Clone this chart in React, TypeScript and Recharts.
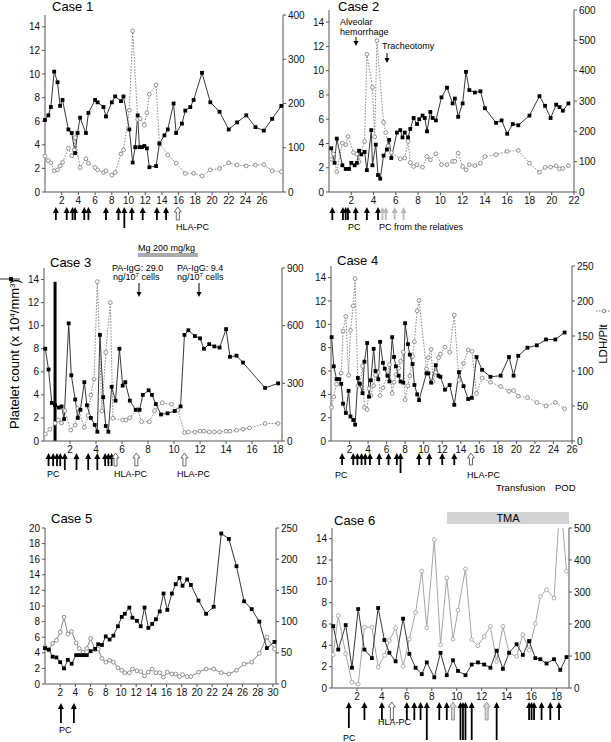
import React from 'react'
import { ComposedChart, Line, Scatter, XAxis, YAxis, ReferenceLine } from 'recharts'

type Pt = [number, number]
type Arr = [number, string]

const FONT = '"Liberation Sans", Arial, sans-serif'

// Case 1
const c1Plt: Pt[] = [[0, 6.1], [0.4, 6.5], [0.7, 7.2], [1.1, 10.2], [1.5, 9.3], [1.8, 7.3], [2.1, 7.8], [2.8, 5.3], [3.2, 5.0], [3.6, 3.3], [3.9, 5.0], [4.2, 6.3], [4.9, 5.0], [5.2, 6.7], [6.0, 7.8], [6.3, 7.6], [7.0, 7.2], [7.3, 6.4], [8.0, 7.6], [8.4, 8.1], [9.1, 7.7], [9.4, 8.1], [10.1, 5.3], [10.5, 2.5], [10.8, 3.8], [11.1, 6.5], [11.3, 3.8], [11.6, 3.8], [11.9, 3.9], [12.2, 3.7], [12.5, 2.1], [13.3, 2.2], [13.7, 4.1], [14.3, 4.8], [14.7, 5.3], [15.4, 7.5], [15.7, 5.0], [16.4, 5.8], [16.8, 6.9], [17.4, 7.2], [17.8, 7.8], [18.8, 10.1], [19.8, 7.6], [20.9, 6.8], [22.0, 5.3], [23.0, 5.9], [24.1, 6.5], [25.2, 5.5], [26.2, 5.2], [27.2, 6.2], [28.3, 7.3]]
const c1Ldh: Pt[] = [[0, 81], [0.4, 71], [0.7, 66], [1.1, 48], [1.5, 50], [1.8, 59], [2.1, 67], [2.8, 99], [3.2, 82], [3.5, 95], [3.6, 123], [4.2, 55], [4.9, 75], [5.2, 65], [6.0, 55], [6.3, 50], [7.0, 44], [7.3, 48], [8.0, 38], [8.4, 44], [9.1, 86], [9.4, 95], [10.1, 185], [10.5, 364], [11.1, 164], [11.4, 166], [11.9, 151], [12.2, 179], [12.5, 221], [13.3, 242], [13.7, 110], [14.7, 84], [15.7, 65], [16.8, 42], [17.8, 42], [18.8, 36], [19.8, 50], [20.9, 53], [22.0, 66], [23.0, 61], [24.1, 59], [25.2, 61], [26.2, 62], [27.2, 48], [28.3, 46]]
const c1Arrows: Arr[] = [[1.3, 'f'], [2.6, 'f'], [3.3, 'f'], [3.6, 'f'], [4.7, 'f'], [5.2, 'f'], [7.3, 'f'], [8.8, 'f'], [9.5, 'L'], [10.4, 'f'], [11.7, 'f'], [13.4, 'f'], [14.5, 'f'], [15.9, 'o']]

// Case 2
const c2Plt: Pt[] = [[0.2, 3.6], [0.5, 2.4], [0.7, 4.4], [1.2, 2.2], [1.5, 1.9], [1.8, 1.9], [2.0, 2.4], [2.3, 2.2], [2.5, 2.4], [2.7, 3.4], [2.9, 3.1], [3.2, 3.3], [3.4, 1.8], [3.8, 5.1], [3.9, 2.2], [4.2, 3.9], [4.4, 1.4], [4.6, 1.1], [4.9, 3.0], [5.2, 3.5], [5.4, 4.3], [5.6, 2.8], [6.1, 4.9], [6.4, 5.1], [6.6, 4.5], [6.8, 4.9], [7.1, 4.5], [7.3, 5.2], [7.6, 6.1], [7.9, 5.6], [8.1, 6.0], [8.4, 6.3], [8.6, 6.1], [8.8, 5.0], [9.1, 6.6], [9.3, 6.1], [9.6, 5.9], [10.1, 7.8], [10.6, 8.6], [11.1, 7.3], [11.3, 7.7], [11.6, 6.2], [12.0, 7.3], [12.3, 9.9], [12.6, 8.4], [13.1, 8.2], [13.6, 8.3], [14.0, 6.9], [15.0, 5.7], [15.5, 5.9], [16.0, 4.8], [16.5, 5.6], [17.0, 5.5], [18.0, 6.3], [18.9, 7.9], [19.4, 7.1], [19.9, 6.1], [20.4, 7.2], [20.7, 7.0], [21.0, 6.7], [21.5, 7.3]]
const c2Ldh: Pt[] = [[0.2, 108], [0.4, 125], [0.7, 67], [1.2, 161], [1.5, 156], [1.7, 183], [2.2, 130], [2.5, 125], [2.7, 100], [2.9, 134], [3.2, 167], [3.4, 454], [3.9, 345], [4.1, 182], [4.3, 499], [4.9, 230], [5.1, 196], [5.3, 152], [5.6, 130], [6.4, 109], [6.8, 112], [7.1, 167], [7.3, 97], [7.6, 84], [7.9, 90], [8.4, 82], [8.8, 117], [9.1, 106], [9.6, 126], [10.1, 90], [10.6, 90], [11.1, 101], [11.3, 101], [11.6, 128], [12.0, 84], [12.3, 73], [12.6, 90], [13.1, 87], [13.6, 95], [14.0, 117], [15.0, 123], [16.0, 134], [17.0, 137], [18.0, 95], [18.9, 65], [19.4, 81], [19.9, 82], [20.4, 86], [20.7, 76], [21.0, 78], [21.5, 87]]
const c2Arrows: Arr[] = [[0.3, 'f'], [1.25, 'f'], [1.5, 'f'], [1.7, 'f'], [2.4, 'f'], [3.4, 'f'], [4.4, 'f'], [4.8, 'g'], [5.1, 'g'], [5.9, 'g'], [6.7, 'g']]

// Case 3
const c3Plt: Pt[] = [[0.1, 8.0], [0.35, 6.2], [0.6, 3.3], [0.85, 3.1], [1.15, 2.9], [1.35, 3.0], [1.55, 1.9], [1.9, 10.2], [2.1, 5.7], [2.4, 3.6], [2.6, 2.0], [2.8, 2.7], [3.1, 5.1], [3.3, 3.1], [3.6, 2.0], [3.9, 1.4], [4.1, 0.8], [4.3, 9.2], [4.55, 3.8], [4.75, 1.3], [4.95, 0.8], [5.2, 4.7], [5.5, 3.5], [5.8, 8.0], [6.05, 4.8], [6.25, 5.1], [6.6, 3.5], [7.05, 2.7], [7.35, 2.7], [7.6, 4.0], [8.05, 4.4], [8.3, 4.0], [8.6, 3.2], [9.0, 2.3], [9.5, 2.4], [10.05, 2.6], [10.5, 3.0], [10.8, 9.2], [11.1, 9.6], [11.6, 9.1], [12.0, 8.9], [12.3, 8.0], [12.7, 8.4], [13.1, 8.2], [13.5, 8.1], [14.0, 9.7], [14.3, 7.3], [14.8, 7.4], [15.3, 6.8], [17.0, 4.6], [18.0, 5.0]]
const c3Ldh: Pt[] = [[0.1, 36], [0.45, 61], [0.85, 92], [1.1, 109], [1.35, 94], [1.6, 158], [2.05, 57], [2.4, 83], [2.6, 170], [3.1, 71], [3.4, 132], [3.6, 239], [3.85, 322], [4.1, 829], [4.45, 156], [4.75, 461], [5.1, 720], [5.3, 118], [6.05, 109], [6.3, 109], [6.6, 121], [7.2, 165], [7.5, 100], [8.1, 100], [8.5, 158], [9.1, 199], [9.8, 191], [10.3, 160], [10.8, 44], [11.1, 47], [11.6, 47], [12.0, 51], [12.3, 51], [12.7, 47], [13.1, 47], [13.5, 47], [14.0, 51], [14.3, 51], [14.8, 56], [15.3, 61], [15.8, 68], [17.0, 91], [18.0, 91]]
const c3Bar: [number, number] = [0.85, 13.8]
const c3Arrows: Arr[] = [[0.35, 'f'], [0.7, 'f'], [1.0, 'f'], [1.25, 'f'], [1.6, 'L'], [2.5, 'L'], [3.4, 'L'], [4.1, 'L'], [4.7, 'f'], [4.95, 'f'], [5.2, 'f'], [5.5, 'o'], [7.1, 'o'], [10.8, 'o']]

// Case 4
const c4Plt: Pt[] = [[0.07, 8.9], [0.3, 6.4], [0.6, 5.3], [0.9, 5.3], [1.1, 4.9], [1.3, 3.2], [1.6, 2.4], [1.9, 4.3], [2.1, 2.1], [2.4, 1.8], [2.6, 1.4], [2.9, 5.4], [3.1, 4.9], [3.4, 4.1], [3.6, 6.8], [3.9, 8.4], [4.1, 3.8], [4.3, 5.2], [4.6, 7.9], [4.8, 6.0], [5.1, 5.3], [5.3, 8.5], [5.6, 6.7], [5.8, 6.2], [6.1, 5.6], [6.3, 5.1], [6.6, 8.9], [6.8, 7.2], [7.0, 6.4], [7.3, 5.6], [7.5, 5.1], [7.8, 5.0], [8.0, 10.1], [8.3, 8.3], [8.5, 7.4], [8.8, 6.6], [9.0, 4.8], [9.3, 4.0], [9.5, 3.5], [10.3, 5.8], [10.5, 5.8], [10.8, 5.0], [11.3, 6.5], [11.6, 5.6], [11.8, 5.5], [12.3, 4.4], [12.8, 4.8], [13.3, 3.1], [13.8, 5.9], [14.3, 4.7], [14.8, 3.6], [15.2, 3.7], [15.7, 7.2], [16.3, 6.1], [17.2, 5.5], [18.3, 5.6], [19.2, 7.2], [19.7, 5.6], [20.2, 7.3], [21.2, 8.0], [22.2, 8.2], [23.2, 8.7], [24.2, 8.7], [25.2, 9.3]]
const c4Ldh: Pt[] = [[0.07, 48], [0.3, 63], [0.6, 81], [1.1, 97], [1.3, 157], [1.6, 178], [1.9, 94], [2.1, 158], [2.4, 193], [2.6, 232], [2.9, 79], [3.1, 81], [3.4, 107], [3.6, 48], [3.9, 45], [4.1, 75], [4.3, 65], [4.6, 79], [4.8, 94], [5.1, 98], [5.3, 65], [5.6, 76], [6.1, 94], [6.3, 109], [6.6, 68], [6.8, 84], [7.0, 95], [7.3, 104], [7.5, 114], [7.8, 127], [8.0, 59], [8.3, 79], [8.5, 93], [8.8, 121], [9.0, 142], [9.3, 186], [9.5, 201], [10.3, 103], [10.5, 119], [10.8, 131], [11.0, 85], [11.3, 98], [11.6, 119], [11.8, 124], [12.3, 134], [12.8, 127], [13.3, 180], [13.8, 87], [14.3, 111], [14.8, 130], [15.2, 128], [15.7, 68], [16.3, 90], [17.2, 84], [18.3, 78], [19.2, 71], [19.7, 72], [20.2, 64], [21.2, 62], [22.2, 55], [23.2, 50], [24.2, 55], [25.2, 46]]
const c4Arrows: Arr[] = [[1.2, 'f'], [2.4, 'f'], [2.85, 'f'], [3.3, 'f'], [3.7, 'f'], [4.2, 'f'], [5.2, 'f'], [6.2, 'f'], [7.1, 'f'], [7.5, 'L'], [9.5, 'f'], [10.6, 'f'], [12.0, 'f'], [13.3, 'f'], [15.1, 'o']]

// Case 5
const c5Plt: Pt[] = [[0, 4.6], [0.5, 4.4], [1.0, 3.5], [1.5, 3.4], [2.0, 2.8], [2.5, 2.0], [3.0, 3.1], [3.5, 2.6], [4.1, 3.7], [4.5, 3.7], [5.0, 3.7], [5.5, 3.7], [6.0, 4.2], [6.6, 4.5], [7.0, 5.1], [7.5, 5.0], [8.0, 6.1], [8.5, 5.7], [9.0, 6.2], [9.6, 7.4], [10.1, 8.6], [10.5, 9.0], [11.1, 9.8], [11.5, 8.5], [12.1, 8.1], [12.6, 7.4], [13.1, 9.8], [13.6, 7.2], [14.1, 7.7], [14.6, 8.3], [15.1, 9.3], [15.6, 11.6], [16.1, 9.5], [16.7, 11.6], [17.2, 12.8], [17.7, 13.6], [18.1, 12.6], [18.7, 13.4], [19.2, 12.7], [20.2, 10.7], [21.2, 9.0], [22.2, 9.9], [23.2, 19.3], [24.2, 18.6], [25.2, 15.1], [26.2, 10.6], [27.2, 9.6], [28.2, 8.0], [29.2, 4.6], [30.2, 5.4]]
const c5Ldh: Pt[] = [[0, 60], [0.5, 55], [1.0, 65], [1.5, 70], [2.0, 83], [2.5, 107], [3.0, 80], [3.5, 84], [4.1, 66], [4.5, 57], [5.0, 51], [5.5, 57], [6.0, 73], [6.6, 55], [7.0, 56], [7.5, 41], [8.0, 35], [8.5, 38], [9.0, 35], [9.6, 26], [10.1, 22], [10.5, 18], [11.1, 18], [11.5, 24], [12.1, 21], [12.6, 20], [13.1, 13], [13.6, 19], [14.1, 24], [14.6, 18], [15.1, 18], [15.6, 11], [16.1, 19], [16.7, 16], [17.2, 16], [17.7, 12], [18.1, 15], [18.7, 12], [19.2, 12], [20.2, 19], [21.2, 24], [22.2, 24], [23.2, 18], [24.2, 16], [25.2, 22], [26.2, 32], [27.2, 35], [28.2, 49], [29.2, 75], [30.2, 56]]
const c5Arrows: Arr[] = [[2.1, 'f'], [3.8, 'f']]

// Case 6
const c6Plt: Pt[] = [[0.1, 5.8], [0.5, 3.6], [1.1, 5.9], [1.6, 1.9], [2.1, 7.4], [2.6, 3.6], [3.2, 2.8], [3.7, 7.5], [4.2, 4.5], [4.6, 3.3], [5.1, 2.5], [5.7, 6.5], [6.2, 3.2], [6.7, 1.9], [7.2, 1.3], [7.6, 2.4], [8.2, 1.0], [8.7, 3.3], [9.2, 1.2], [9.7, 2.6], [10.1, 1.6], [10.7, 1.2], [11.2, 2.2], [11.7, 2.4], [12.2, 2.2], [12.7, 1.9], [13.2, 3.5], [13.7, 1.8], [14.2, 3.3], [14.8, 4.1], [15.3, 3.1], [15.8, 4.4], [16.3, 2.8], [16.7, 2.7], [17.2, 2.3], [17.8, 2.7], [18.3, 1.7], [18.8, 2.9]]
const c6Ldh: Pt[] = [[0.1, 104], [0.5, 226], [1.1, 107], [1.6, 18], [2.1, 12], [2.6, 190], [3.2, 190], [3.7, 65], [4.2, 102], [4.6, 148], [5.1, 188], [5.7, 68], [6.2, 153], [6.7, 236], [7.2, 365], [7.6, 188], [8.2, 464], [8.7, 135], [9.2, 344], [9.7, 153], [10.1, 243], [10.7, 372], [11.2, 151], [11.7, 132], [12.2, 161], [12.7, 193], [13.2, 83], [13.7, 193], [14.2, 109], [14.8, 99], [15.3, 167], [15.8, 118], [16.3, 201], [16.7, 286], [17.2, 307], [17.8, 281], [18.3, 600], [18.8, 365]]
const c6Arrows: Arr[] = [[1.35, 'L'], [2.6, 'f'], [4.0, 'f'], [4.8, 'o'], [6.0, 'f'], [6.6, 'f'], [7.1, 'f'], [7.6, 'V'], [8.6, 'f'], [9.2, 'f'], [9.7, 'G'], [10.3, 'V'], [10.5, 'V'], [10.7, 'V'], [11.2, 'V'], [12.4, 'G'], [13.2, 'V'], [15.8, 'f'], [16.0, 'f'], [16.2, 'f'], [16.8, 'f'], [17.5, 'f'], [18.2, 'f']]

// ticks
const even = (max: number) => Array.from({ length: max / 2 }, (_, i) => (i + 1) * 2)
const yTicks14 = [0, 2, 4, 6, 8, 10, 12, 14]
const yTicks20 = [0, 2, 4, 6, 8, 10, 12, 14, 16, 18, 20]

const pts = (a: Pt[]) => a.map(([d, v]) => ({ d, v }))
const arws = (a: Arr[]) => a.map(([d, k]) => ({ d, v: 0, k }))

const sqDot = (p: any) => (
  <rect key={`sq${p.index}`} x={p.cx - 1.9} y={p.cy - 1.9} width={3.8} height={3.8} fill="#000" />
)
const ringDot = (col: string) => (p: any) => (
  <circle key={`ci${p.index}`} cx={p.cx} cy={p.cy} r={1.9} fill="#fff" stroke={col} strokeWidth={0.9} />
)

// arrows under the x axis: f = filled, L/V = longer, o = open, g = grey, G = grey open
const arrowShape = (top: number, len: number, lng: number, vlng: number) => (p: any) => {
  const cx = p.cx
  const y0 = p.cy + top
  const k = p.payload?.k ?? 'f'
  const y1 = y0 + (k === 'L' ? lng : k === 'V' ? vlng : len)
  if (k === 'o' || k === 'G') {
    const s = k === 'G' ? '#8a8a8a' : '#444'
    const f = k === 'G' ? '#d5d5d5' : '#fff'
    const d = `M${cx},${y0} L${cx + 3.5},${y0 + 5} L${cx + 1.5},${y0 + 5} L${cx + 1.5},${y1} L${cx - 1.5},${y1} L${cx - 1.5},${y0 + 5} L${cx - 3.5},${y0 + 5} Z`
    return <path d={d} fill={f} stroke={s} strokeWidth={0.8} />
  }
  const c = k === 'g' ? '#b8b8b8' : '#000'
  return (
    <g>
      <line x1={cx} x2={cx} y1={y0 + 4} y2={y1} stroke={c} strokeWidth={1.8} />
      <path d={`M${cx},${y0} L${cx + 3},${y0 + 6} L${cx - 3},${y0 + 6} Z`} fill={c} />
    </g>
  )
}

type PanelProps = {
  box: [number, number, number, number]
  xMax: number
  xTicks: number[]
  yMax: number
  yTicks: number[]
  rMax: number
  rTicks: number[]
  plt: Pt[]
  ldh: Pt[]
  arrows: Arr[]
  arrow: [number, number, number, number]
  ldhStyle: 'dot' | 'solid' | 'light'
  clipR?: boolean
  bar?: [number, number]
}

function Panel(props: PanelProps) {
  const [l, r, t, b] = props.box
  const tick = { fontSize: 10, fill: '#111', fontFamily: FONT }
  const ldhCol = props.ldhStyle === 'light' ? '#a5a5a5' : '#858585'
  return (
    <div style={{ position: 'absolute', left: l - 40, top: t - 5 }}>
      <ComposedChart width={r - l + 80} height={b - t + 65} margin={{ top: 5, right: 0, bottom: 40, left: 0 }}>
        <XAxis type="number" dataKey="d" domain={[0, props.xMax]} ticks={props.xTicks} interval={0} height={20} tickSize={3} tick={tick} stroke="#555" />
        <YAxis yAxisId="l" type="number" domain={[0, props.yMax]} ticks={props.yTicks} interval={0} width={40} tickSize={3} tick={tick} stroke="#555" />
        <YAxis yAxisId="r" orientation="right" type="number" domain={[0, props.rMax]} ticks={props.rTicks} interval={0} width={40} tickSize={3} tick={tick} stroke="#555" allowDataOverflow={!!props.clipR} />
        <Line yAxisId="r" data={pts(props.ldh)} dataKey="v" type="linear" stroke={ldhCol} strokeWidth={1} strokeDasharray={props.ldhStyle === 'dot' ? '1.5 1.5' : undefined} dot={ringDot(ldhCol)} isAnimationActive={false} />
        <Line yAxisId="l" data={pts(props.plt)} dataKey="v" type="linear" stroke="#383838" strokeWidth={1} dot={sqDot} isAnimationActive={false} />
        {props.bar && (
          <ReferenceLine yAxisId="l" segment={[{ x: props.bar[0], y: 0 }, { x: props.bar[0], y: props.bar[1] }]} stroke="#000" strokeWidth={3} />
        )}
        <Scatter yAxisId="l" data={arws(props.arrows)} dataKey="v" shape={arrowShape(...props.arrow)} isAnimationActive={false} />
      </ComposedChart>
    </div>
  )
}

const Down = ({ x, y1, y2 }: { x: number; y1: number; y2: number }) => (
  <g>
    <line x1={x} x2={x} y1={y1} y2={y2 - 4} stroke="#000" strokeWidth={1} />
    <path d={`M${x - 2.5},${y2 - 5} L${x + 2.5},${y2 - 5} L${x},${y2} Z`} fill="#000" />
  </g>
)

export default function App() {
  return (
    <div style={{ position: 'absolute', left: 0, top: 0, width: 611, height: 742, background: '#fff', fontFamily: FONT, overflow: 'hidden' }}>
      <Panel box={[45, 283, 15, 192]} xMax={28.5} xTicks={even(26)} yMax={15} yTicks={yTicks14} rMax={400} rTicks={[0, 100, 200, 300, 400]} plt={c1Plt} ldh={c1Ldh} arrows={c1Arrows} arrow={[15, 13, 21, 21]} ldhStyle="dot" />
      <Panel box={[329, 574, 10, 192]} xMax={22} xTicks={even(22)} yMax={15} yTicks={yTicks14} rMax={600} rTicks={[0, 100, 200, 300, 400, 500, 600]} plt={c2Plt} ldh={c2Ldh} arrows={c2Arrows} arrow={[15, 13, 13, 13]} ldhStyle="dot" />
      <Panel box={[44, 282, 268, 441]} xMax={18.3} xTicks={even(18)} yMax={15} yTicks={yTicks14} rMax={900} rTicks={[0, 300, 600, 900]} plt={c3Plt} ldh={c3Ldh} arrows={c3Arrows} arrow={[12, 13, 17, 17]} ldhStyle="dot" bar={c3Bar} />
      <Panel box={[331, 572, 266, 441]} xMax={26} xTicks={even(26)} yMax={15} yTicks={yTicks14} rMax={250} rTicks={[0, 50, 100, 150, 200, 250]} plt={c4Plt} ldh={c4Ldh} arrows={c4Arrows} arrow={[12, 12, 20, 20]} ldhStyle="dot" />
      <Panel box={[45, 276, 528, 684]} xMax={30.4} xTicks={even(30)} yMax={20} yTicks={yTicks20} rMax={250} rTicks={[0, 50, 100, 150, 200, 250]} plt={c5Plt} ldh={c5Ldh} arrows={c5Arrows} arrow={[19, 20, 20, 20]} ldhStyle="solid" />
      <Panel box={[332, 569, 528, 688]} xMax={19} xTicks={even(18)} yMax={15} yTicks={yTicks14} rMax={500} rTicks={[0, 100, 200, 300, 400, 500]} plt={c6Plt} ldh={c6Ldh} arrows={c6Arrows} arrow={[14, 18, 26, 38]} ldhStyle="light" clipR />

      <svg width={611} height={742} style={{ position: 'absolute', left: 0, top: 0, pointerEvents: 'none' }} fontFamily={FONT}>
        <g fontSize={13} fill="#000">
          <text x={52} y={11}>Case 1</text>
          <text x={338} y={11}>Case 2</text>
          <text x={50} y={267}>Case 3</text>
          <text x={337} y={265}>Case 4</text>
          <text x={51} y={523}>Case 5</text>
          <text x={334} y={525}>Case 6</text>
        </g>

        <g fontSize={9} fill="#000">
          {/* case 1 */}
          <text x={176} y={230}>HLA-PC</text>
          {/* case 2 */}
          <text x={340} y={25}>Alveolar</text>
          <text x={340} y={35}>hemorrhage</text>
          <text x={382} y={49}>Tracheotomy</text>
          <text x={348} y={230}>PC</text>
          <text x={379} y={230}>PC from the relatives</text>
          {/* case 3 */}
          <text x={138} y={251}>Mg 200 mg/kg</text>
          <text x={112} y={271}>PA-IgG: 29.0</text>
          <text x={113} y={280}>ng/10<tspan dy={-3} fontSize={6}>7</tspan><tspan dy={3}> cells</tspan></text>
          <text x={177} y={271}>PA-IgG: 9.4</text>
          <text x={177} y={280}>ng/10<tspan dy={-3} fontSize={6}>7</tspan><tspan dy={3}> cells</tspan></text>
          <text x={47} y={477}>PC</text>
          <text x={114} y={477}>HLA-PC</text>
          <text x={177} y={477}>HLA-PC</text>
          {/* case 4 */}
          <text x={335} y={478}>PC</text>
          <text x={467} y={478}>HLA-PC</text>
          <text x={496} y={491} fontSize={9.5}>Transfusion</text>
          <text x={555} y={491} fontSize={9.5}>POD</text>
          {/* case 5 */}
          <text x={59} y={733}>PC</text>
          {/* case 6 */}
          <text x={343} y={741}>PC</text>
          <text x={378} y={725}>HLA-PC</text>
        </g>

        <Down x={356} y1={37} y2={46} />
        <Down x={387} y1={53} y2={63} />
        <Down x={139} y1={283} y2={297} />
        <Down x={199} y1={283} y2={297} />

        <rect x={138} y={253} width={60} height={4} fill="#aaa" />
        <rect x={447} y={512} width={122} height={12} fill="#d3d3d3" />
        <text x={508} y={522} fontSize={11} textAnchor="middle" fill="#000">TMA</text>

        {/* axis titles and legend keys */}
        <text x={19} y={354} fontSize={13} textAnchor="middle" transform="rotate(-90 19 354)" fill="#000">
          Platelet count (x 10<tspan dy={-4} fontSize={8}>4</tspan><tspan dy={4}>/mm</tspan><tspan dy={-4} fontSize={8}>3</tspan><tspan dy={4}>)</tspan>
        </text>
        <line x1={0} x2={20} y1={279} y2={279} stroke="#333" strokeWidth={1} />
        <rect x={9} y={277} width={4} height={4} fill="#000" />
        <text x={607} y={344} fontSize={11.5} textAnchor="middle" transform="rotate(-90 607 344)" fill="#000">LDH/Plt</text>
        <line x1={596} x2={611} y1={311} y2={311} stroke="#777" strokeWidth={1} strokeDasharray="1.5 1.5" />
        <circle cx={604} cy={311} r={1.8} fill="#fff" stroke="#777" strokeWidth={0.9} />
      </svg>
    </div>
  )
}
